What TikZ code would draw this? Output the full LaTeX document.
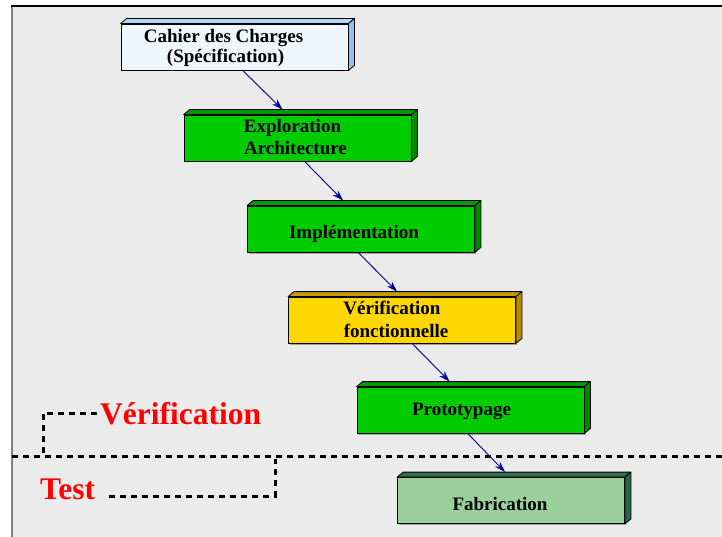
\documentclass[tikz,border=0pt]{standalone}
\usepackage{fontspec}
\setmainfont{Liberation Serif}
\usetikzlibrary{calc,arrows.meta,shadows}

\definecolor{panel}{HTML}{EBEBEB}
\definecolor{specfront}{HTML}{EEF6FF}
\definecolor{spectop}{HTML}{B5D6F4}
\definecolor{specside}{HTML}{8EC3EE}
\definecolor{grnfront}{HTML}{00CC00}
\definecolor{grntop}{HTML}{009900}
\definecolor{grnside}{HTML}{008800}
\definecolor{ylwfront}{HTML}{FFD700}
\definecolor{ylwtop}{HTML}{C89B00}
\definecolor{ylwside}{HTML}{B88A00}
\definecolor{fabfront}{HTML}{99D09B}
\definecolor{fabtop}{HTML}{2F6F4F}
\definecolor{fabside}{HTML}{2A6446}
\definecolor{flow}{HTML}{000099}
\definecolor{lblred}{HTML}{FF0000}

% top and right faces of a slab drawn behind the front rectangle
\newcommand\slabfaces[3]{%
  \filldraw[fill=#2,draw=black,line width=0.8pt,line join=round]
    (#1.north west) -- ++(6,-5) -- ($(#1.north east)+(6,-5)$) -- (#1.north east) -- cycle;
  \filldraw[fill=#3,draw=black,line width=0.8pt,line join=round]
    (#1.north east) -- ++(6,-5) -- ($(#1.south east)+(6,-5)$) -- (#1.south east) -- cycle;}

\begin{document}
\begin{tikzpicture}[x=1pt,y=-1pt,
  stage/.style={draw=black,line width=0.8pt,minimum width=227pt,minimum height=46pt,
    inner sep=0pt,
    drop shadow={shadow xshift=1.5pt,shadow yshift=-1.5pt,opacity=.3,fill=black}},
  stagetext/.style={anchor=base,inner sep=0pt,font=\bfseries\fontsize{19}{22}\selectfont},
  flowarrow/.style={draw=flow,line width=0.9pt,-{Stealth[length=11pt,width=7pt]}},
  redlabel/.style={text=lblred,inner sep=0pt,font=\bfseries\fontsize{31.5}{32}\selectfont},
  dashline/.style={draw=black,line width=3pt,dash pattern=on 6pt off 5pt}]

\useasboundingbox (0,0) rectangle (722,537);
\fill[white] (0,0) rectangle (722,537);
\fill[panel] (12,6) rectangle (722,537);
\draw[black!50,line width=2pt] (12,6) -- (12,537);
\draw[black,line width=1.5pt] (11,6) -- (722,6);

% design flow stages
\node[stage,fill=specfront] (cdc) at (234.5,47) {};
\node[stage,fill=grnfront] (exp) at (297.5,138) {};
\node[stage,fill=grnfront] (imp) at (361,229) {};
\node[stage,fill=ylwfront] (ver) at (402,320) {};
\node[stage,fill=grnfront] (pro) at (470.5,410) {};
\node[stage,fill=fabfront] (fab) at (511,500.5) {};

\slabfaces{cdc}{spectop}{specside}
\slabfaces{exp}{grntop}{grnside}
\slabfaces{imp}{grntop}{grnside}
\slabfaces{ver}{ylwtop}{ylwside}
\slabfaces{pro}{grntop}{grnside}
\slabfaces{fab}{fabtop}{fabside}

% stage captions
\node[stagetext] (cdc-a) at ($(cdc.center)+(-11,-4)$) {Cahier des Charges};
\node[stagetext] (cdc-b) at ($(cdc.center)+(-9,16)$) {(Spécification)};
\node[stagetext] (exp-a) at ($(exp.center)+(-5,-5)$) {Exploration};
\node[stagetext] (exp-b) at ($(exp.center)+(-2,17)$) {Architecture};
\node[stagetext] (imp-a) at ($(imp.center)+(-7,9)$) {Implémentation};
\node[stagetext] (ver-a) at ($(ver.center)+(-10,-6)$) {Vérification};
\node[stagetext] (ver-b) at ($(ver.center)+(-6,17)$) {fonctionnelle};
\node[stagetext] (pro-a) at ($(pro.center)+(-9,5)$) {Prototypage};
\node[stagetext] (fab-a) at ($(fab.center)+(-11,9.5)$) {Fabrication};

% flow arrows
\draw[flowarrow] ($(cdc.south west)+(122,0)$) -- ($(exp.north west)+(99,-5)$);
\draw[flowarrow] ($(exp.south west)+(121,0)$) -- ($(imp.north west)+(96,-5)$);
\draw[flowarrow] ($(imp.south west)+(111,0)$) -- ($(ver.north west)+(109,-5)$);
\draw[flowarrow] ($(ver.south west)+(124,0)$) -- ($(pro.north west)+(93,-5)$);
\draw[flowarrow] ($(pro.south west)+(111,0)$) -- ($(fab.north west)+(108,-5)$);

% verification / test split
\node[redlabel,anchor=base west] (vlab) at (100,424) {Vérification};
\node[redlabel,anchor=base west] (tlab) at (40,499) {Test};

\coordinate (lineL) at (12,456);
\coordinate (lineR) at (722,456);
\draw[dashline] (lineL) -- (lineR);

\coordinate (vend) at ($(vlab.base west)+(-3,-11)$);
\coordinate (vdrop) at (43,456);
\draw[dashline] (vend) -| (vdrop);

\coordinate (tend) at ($(tlab.base east)+(14,-3)$);
\coordinate (trise) at (275,459);
\draw[dashline] (tend) -| (trise);
\end{tikzpicture}
\end{document}
